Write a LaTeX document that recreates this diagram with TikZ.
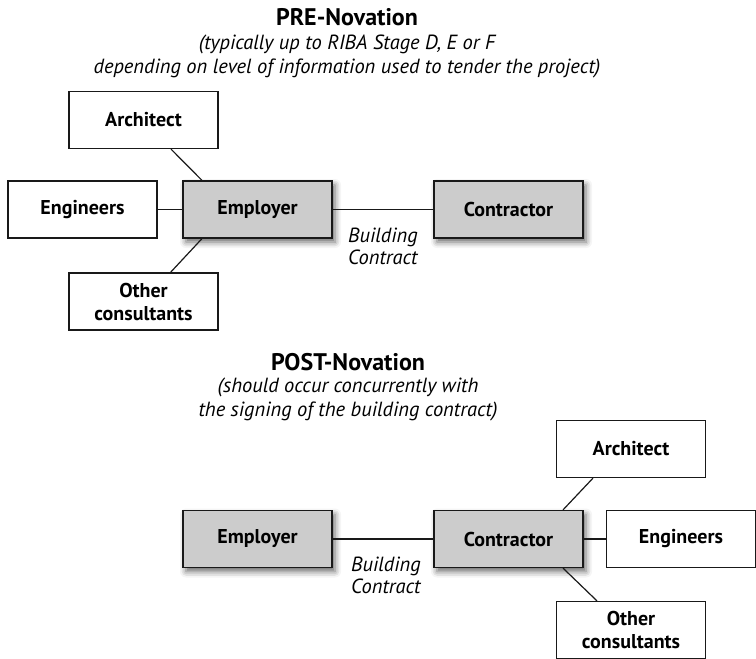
\documentclass[tikz,border=0pt]{standalone}
\usepackage{fontspec}
\setmainfont{PT Sans}
\usetikzlibrary{shadows.blur}

\begin{document}
\begin{tikzpicture}[x=1pt, y=-1pt]
    \tikzstyle{party}=[draw=black!90, line width=1.2pt, fill=white, minimum width=149pt, minimum height=57pt, inner sep=1pt, align=center, font=\fontsize{20}{23}\selectfont\bfseries]
    \tikzstyle{principal}=[party, fill=black!20, blur shadow={shadow xshift=3pt, shadow yshift=-4pt, shadow blur radius=6pt, shadow opacity=60}]
    \tikzstyle{heading}=[font=\fontsize{24}{28}\selectfont\bfseries]
    \tikzstyle{remark}=[font=\fontsize{20.5}{24}\selectfont\itshape, align=center]
    \tikzstyle{contract}=[font=\fontsize{20.5}{22}\selectfont\itshape, align=left, anchor=north west, inner sep=0pt]

    \useasboundingbox (0,0) rectangle (756,659);

    \node[heading] (preTitle) at (347,17) {PRE-Novation};
    \node[remark] (preNote) at (347,56) {(typically up to RIBA Stage D, E or F\\depending on level of information used to tender the project)};

    \node[party] (archA) at (143.5,120) {Architect};
    \node[party] (engA) at (82.5,209.5) {Engineers};
    \node[principal] (empA) at (257.5,209.5) {Employer};
    \node[principal] (conA) at (508.5,209.5) {Contractor};
    \node[party] (othA) at (143.5,301.5) {Other\\consultants};
    \node[contract] (bcA) at (348,228) {Building\\Contract};

    \node[heading] (postTitle) at (348,362) {POST-Novation};
    \node[remark] (postNote) at (348,399) {(should occur concurrently with\\the signing of the building contract)};

    \node[principal] (empB) at (257.5,539) {Employer};
    \node[principal] (conB) at (508.5,539) {Contractor};
    \node[party] (archB) at (631,449) {Architect};
    \node[party] (engB) at (681,539) {Engineers};
    \node[party] (othB) at (631,630) {Other\\consultants};
    \node[contract] (bcB) at (351,557) {Building\\Contract};

    \tikzstyle{link} = [draw=black!90, line width=1.2pt]

          \draw [link] ([xshift=27.5pt]archA.south) -- ([xshift=-55.5pt]empA.north);
          \draw [link] (engA) -- (empA);
          \draw [link] ([xshift=-55.5pt]empA.south) -- ([xshift=27pt]othA.north);
          \draw [link] (empA) -- (conA);

          \draw [link] (empB) -- (conB);
          \draw [link] ([xshift=-38pt]archB.south) -- ([xshift=54.5pt]conB.north);
          \draw [link] (conB) -- (engB);
          \draw [link] ([xshift=54.5pt]conB.south) -- ([xshift=-34pt]othB.north);
\end{tikzpicture}
\end{document}
